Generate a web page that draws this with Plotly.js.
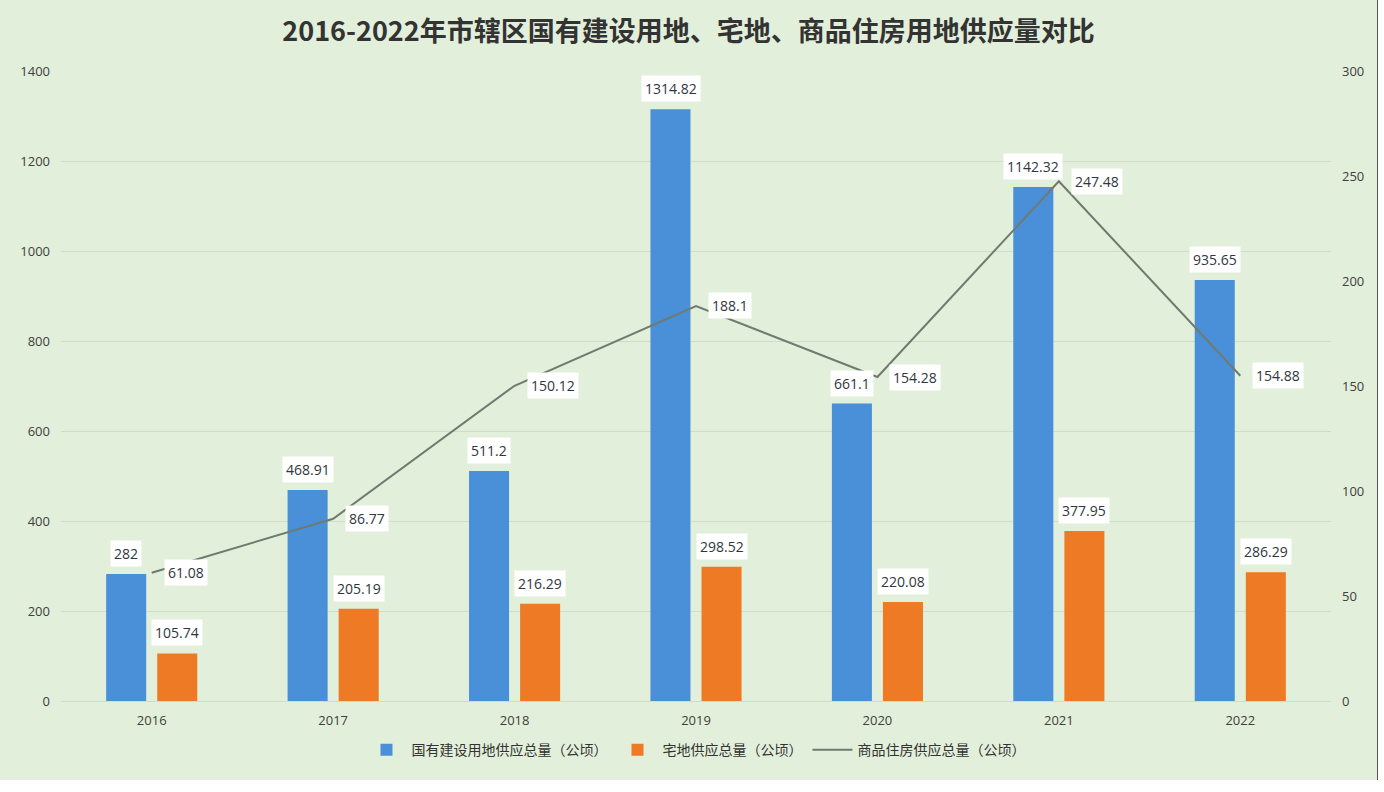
<!DOCTYPE html>
<html>
<head>
<meta charset="utf-8">
<script src="https://cdn.plot.ly/plotly-3.0.1.min.js"></script>
<style>
  html, body { margin: 0; padding: 0; background: #ffffff; }
  #chart { position: absolute; left: 0; top: 0; width: 1377px; height: 780px; border-right: 1px solid #555; }
</style>
</head>
<body>
<div id="chart"></div>
<script>
const years = ['2016', '2017', '2018', '2019', '2020', '2021', '2022'];
const stateLand = [282, 468.91, 511.2, 1314.82, 661.1, 1142.32, 935.65];
const homestead = [105.74, 205.19, 216.29, 298.52, 220.08, 377.95, 286.29];
const housing = [61.08, 86.77, 150.12, 188.1, 154.28, 247.48, 154.88];
const stateLandLabels = ['282', '468.91', '511.2', '1314.82', '661.1', '1142.32', '935.65'];
const homesteadLabels = ['105.74', '205.19', '216.29', '298.52', '220.08', '377.95', '286.29'];
const housingLabels = ['61.08', '86.77', '150.12', '188.1', '154.28', '247.48', '154.88'];
const seriesNames = ['国有建设用地供应总量（公顷）', '宅地供应总量（公顷）', '商品住房供应总量（公顷）'];

const numFont = 'Open Sans, Noto Sans, sans-serif';

const traces = [
  { type: 'bar', name: seriesNames[0], x: years, y: stateLand, marker: { color: '#4a90d9' }, hoverinfo: 'y' },
  { type: 'bar', name: seriesNames[1], x: years, y: homestead, marker: { color: '#ee7a26' }, hoverinfo: 'y' },
  { type: 'scatter', mode: 'lines', name: seriesNames[2], x: years, y: housing, yaxis: 'y2',
    line: { color: '#6f7a70', width: 2 }, hoverinfo: 'y' }
];

const annotations = [];
const labFont = { family: numFont, size: 14, color: '#2f3640' };
years.forEach((yr, i) => {
  // category axis: annotation x given as category index
  annotations.push({ x: i, y: stateLand[i], xref: 'x', yref: 'y', text: stateLandLabels[i], showarrow: false,
    xshift: -25.5, yshift: 7, yanchor: 'bottom', xanchor: 'center', bgcolor: '#ffffff', borderpad: 3, font: labFont });
  annotations.push({ x: i, y: homestead[i], xref: 'x', yref: 'y', text: homesteadLabels[i], showarrow: false,
    xshift: 25.5, yshift: 7, yanchor: 'bottom', xanchor: 'center', bgcolor: '#ffffff', borderpad: 3, font: labFont });
  annotations.push({ x: i, y: housing[i], xref: 'x', yref: 'y2', text: housingLabels[i], showarrow: false,
    xshift: 12, yshift: 0, yanchor: 'middle', xanchor: 'left', bgcolor: '#ffffff', borderpad: 3, font: labFont });
});

const layout = {
  width: 1377, height: 780,
  margin: { l: 61, r: 46, t: 71, b: 79 },
  paper_bgcolor: '#e2efda',
  plot_bgcolor: '#e2efda',
  title: { text: '<b>2016-2022年市辖区国有建设用地、宅地、商品住房用地供应量对比</b>',
    font: { family: 'Noto Sans CJK SC, sans-serif', size: 27, color: '#333333' },
    x: 0.5, xanchor: 'center', y: 0.959, yanchor: 'middle' },
  barmode: 'group',
  bargap: 0.437,
  bargroupgap: 0.216,
  xaxis: { type: 'category', range: [-0.5, 6.5], showgrid: false, zeroline: false, showline: false, ticks: '',
    tickfont: { family: numFont, size: 13, color: '#404040' }, ticklabelstandoff: 10 },
  yaxis: { range: [0, 1400], dtick: 200, showgrid: true, gridcolor: '#cfdcc8', gridwidth: 1,
    zeroline: true, zerolinecolor: '#cfdcc8', showline: false, ticks: '',
    tickfont: { family: numFont, size: 13, color: '#404040' }, ticklabelstandoff: 10 },
  yaxis2: { range: [0, 300], dtick: 50, overlaying: 'y', side: 'right', showgrid: false, zeroline: false,
    showline: false, ticks: '', tickfont: { family: numFont, size: 13, color: '#404040' }, ticklabelstandoff: 10 },
  legend: { orientation: 'h', x: 0.5, xanchor: 'center', y: -0.078, yanchor: 'middle',
    font: { family: 'Noto Sans CJK SC, sans-serif', size: 14, color: '#333333' }, bgcolor: 'rgba(0,0,0,0)',
    traceorder: 'normal', itemwidth: 40 },
  annotations: annotations,
  showlegend: true
};

Plotly.newPlot('chart', traces, layout, { displayModeBar: false, staticPlot: true });
</script>
</body>
</html>
